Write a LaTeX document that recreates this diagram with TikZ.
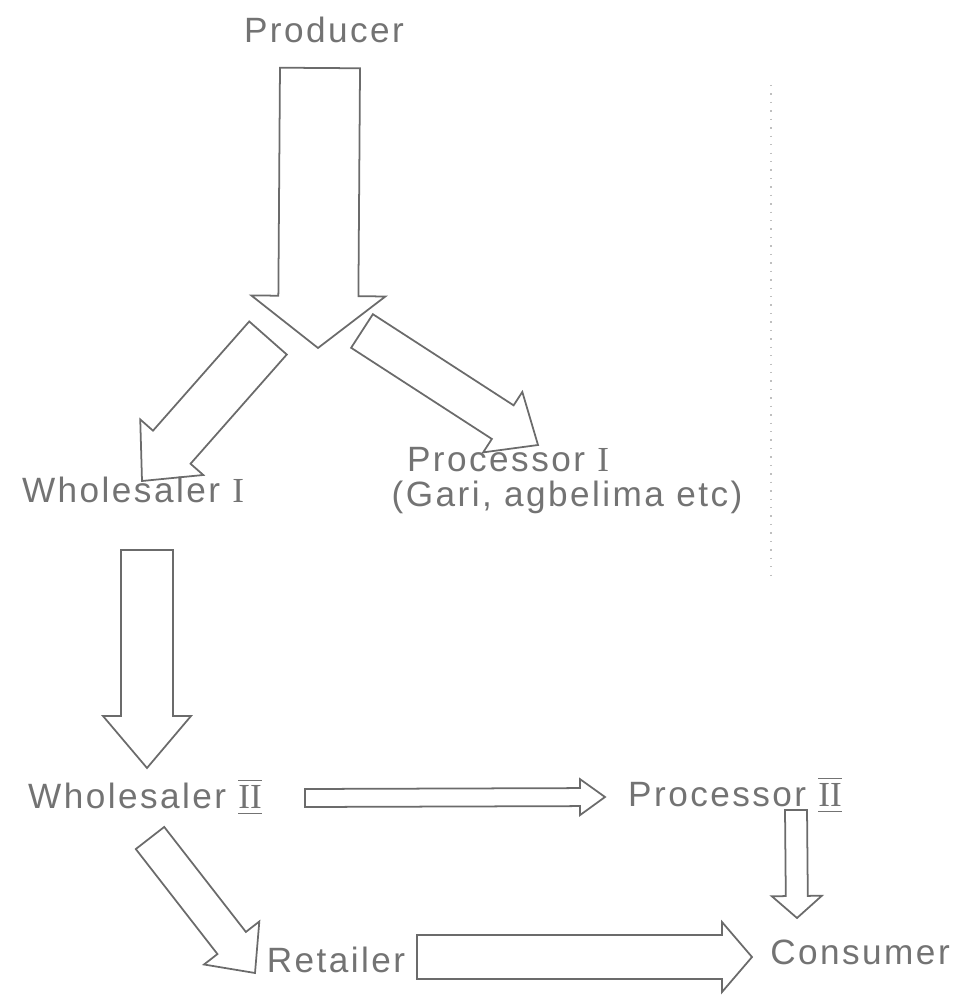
\documentclass[tikz,border=0pt]{standalone}
\usepackage{fontspec}
\setmainfont[LetterSpace=7]{Liberation Sans}
\newfontfamily\romfont{Liberation Serif}
\usepackage{tikz}
\usetikzlibrary{calc}

% hollow block arrow: start, tip, half shaft width, half head width, head length
\newcommand{\blockarrow}[5]{%
  \coordinate (neck) at ($(#2)!#5!(#1)$);
  \draw[flow] ($(#1)!#3!90:(#2)$) -- ($(neck)!#3!90:(#2)$) -- ($(neck)!#4!90:(#2)$)
    -- (#2) -- ($(neck)!#4!-90:(#2)$) -- ($(neck)!#3!-90:(#2)$) -- ($(#1)!#3!-90:(#2)$) -- cycle;
}
\newcommand{\romI}{{\romfont I}}
\newcommand{\romII}{\ensuremath{\overline{\underline{\mbox{\romfont II}}}}}

\begin{document}
\begin{tikzpicture}
[x=0.01cm, y=-0.01cm,
 every node/.style={font=\fontsize{10}{12}\selectfont, text=black!55, anchor=center, inner sep=0.5pt},
 flow/.style={draw=black!58, line width=0.5pt, line join=miter}]
\useasboundingbox (0,0) rectangle (958,1001);

% Actors
\node (prod) at (324,30) {Producer};
\node (procI) at (508,460) {Processor \romI};
\node (gari) at (567,497) {(Gari, agbelima etc)};
\node (whI) at (133,490) {Wholesaler \romI};
\node (whII) at (145,797) {Wholesaler \romII};
\node (procII) at (735,795) {Processor \romII};
\node (ret) at (336,960) {Retailer};
\node (cons) at (860,952) {Consumer};

% Arrow ends
\coordinate (a0) at (320,68);
\coordinate (a1) at (318,348);
\coordinate (b0) at (268,338);
\coordinate (b1) at (142,481);
\coordinate (c0) at (362,331);
\coordinate (c1) at (538,445);
\coordinate (d0) at (147,550);
\coordinate (d1) at (147,768);
\coordinate (e0) at (305,798);
\coordinate (e1) at (605,797);
\coordinate (f0) at (796,810);
\coordinate (f1) at (797,918);
\coordinate (g0) at (150,838);
\coordinate (g1) at (255,973);
\coordinate (h0) at (417,957);
\coordinate (h1) at (752,957);

% Flows
\blockarrow{a0}{a1}{0.40cm}{0.67cm}{0.52cm}
\blockarrow{b0}{b1}{0.25cm}{0.42cm}{0.45cm}
\blockarrow{c0}{c1}{0.20cm}{0.36cm}{0.42cm}
\blockarrow{d0}{d1}{0.26cm}{0.44cm}{0.52cm}
\blockarrow{e0}{e1}{0.09cm}{0.18cm}{0.25cm}
\blockarrow{f0}{f1}{0.11cm}{0.25cm}{0.22cm}
\blockarrow{g0}{g1}{0.18cm}{0.35cm}{0.38cm}
\blockarrow{h0}{h1}{0.22cm}{0.35cm}{0.30cm}

% fold mark of the scan
\draw[black!25, dotted] (771,85) -- (771,580);
\end{tikzpicture}
\end{document}
